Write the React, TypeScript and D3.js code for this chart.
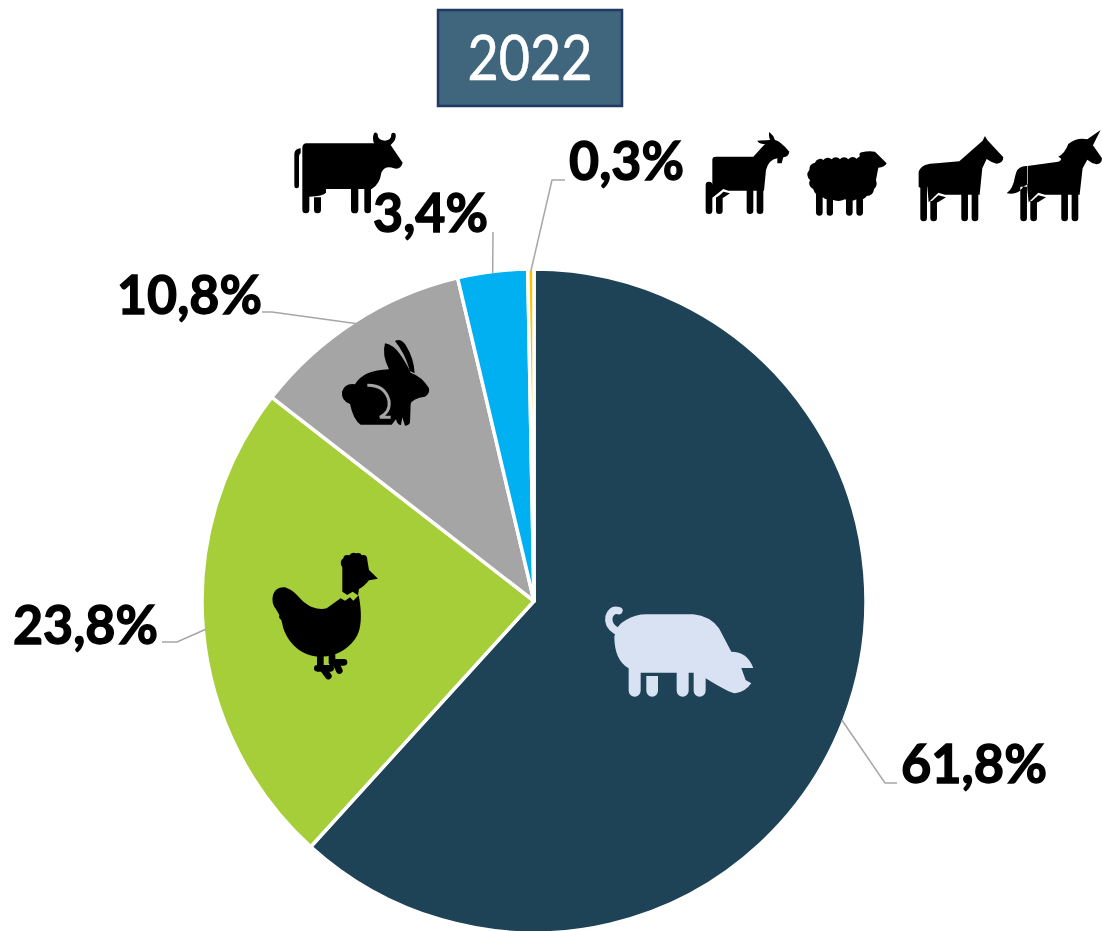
import React from "react";
import * as d3 from "d3";

const titleText = "2022";
const categories = ["Porc", "Volaille", "Lapin", "Bovin", "Autres"];
const shareValues = [61.8, 23.8, 10.8, 3.4, 0.3];
const shareLabels = ["61,8%", "23,8%", "10,8%", "3,4%", "0,3%"];
const sliceColors = ["#1e4256", "#a6ce39", "#a5a5a5", "#00b0f0", "#ffc000"];

const W = 1102, H = 931;
const cx = 534, cy = 601, R = 332;
const FONT = "Lato, 'Open Sans', sans-serif";
const LEADER = "#a6a6a6";

// label placement: text left / baseline / width, leader elbow and end
const labelLayout = [
  { x: 901, y: 783, w: 146, leader: [[885, 783], [897, 783]] },
  { x: 13, y: 644, w: 145, leader: [[177, 642], [162, 642]] },
  { x: 117, y: 314, w: 145, leader: [[272, 312], [262, 312]] },
  { x: 373, y: 232, w: 115, leader: [[493, 232]] },
  { x: 569, y: 180, w: 115, leader: [[552, 180], [565, 180]] },
];

const leg = (x: number, y0: number, y1: number, w: number) =>
  `M${x} ${y0}h${w}V${y1 - w / 2}a${w / 2} ${w / 2} 0 0 1 ${-w} 0Z`;

const cowPath =
  "M110 430H312Q306 415 312 400Q318 394 323 402Q322 420 345 422Q365 420 364 402Q370 394 377 402Q380 420 362 435L398 488Q392 510 372 505Q345 495 334 518Q330 552 305 567H168V578Q160 588 118 590H97V445Q97 430 110 430Z" +
  "M73 462Q73 447 92 445V460Q87 462 87 470V558a7 7 0 0 1 -14 0Z" +
  leg(97, 585, 640, 21) + leg(132, 592, 640, 21) + leg(243, 560, 640, 22) + leg(283, 560, 640, 20);

const goatPath =
  "M78 110H190L225 72Q205 72 202 62L240 60Q235 45 238 36Q250 45 255 60Q270 62 298 95Q296 110 280 112L275 130H262V115Q235 120 228 150L222 212H115L100 207L67 233V120Q67 110 78 110Z" +
  "M120 220L100 233H78L90 225L100 215Z" +
  leg(47, 195, 282, 20) + leg(78, 232, 282, 20) + leg(170, 205, 282, 20) + leg(200, 205, 282, 20) +
  "M47 195a10 10 0 0 1 20 0Z";

const sheepPath =
  "M375 128a16 16 0 0 1 25 -8a16 16 0 0 1 25 -2a16 16 0 0 1 25 0a16 16 0 0 1 25 0a16 16 0 0 1 25 -2L510 108Q505 100 515 97Q535 92 555 95L590 130Q585 142 565 143L558 180Q564 198 552 208Q550 228 530 228Q520 243 500 238Q480 248 465 238Q445 248 425 238Q405 241 395 228Q375 228 370 208Q352 198 360 180Q345 165 358 150Q356 133 375 128Z" +
  leg(378, 220, 287, 20) + leg(410, 232, 287, 19) + leg(468, 232, 287, 20) + leg(499, 225, 287, 20);

const horsePath =
  "M686 155Q695 130 740 130L808 124L878 62L885 48L892 60L940 112Q940 130 920 131Q905 128 890 117L877 145L869 224H765L745 218L716 247L712 200L695 207L686 200Z" +
  "M768 232L744 247H722L735 235L745 226Z" +
  leg(691, 200, 304, 20) + leg(721, 243, 304, 20) + leg(814, 215, 304, 20) + leg(845, 215, 304, 20);

const unicornPath =
  "M1012 138L1105 125Q1122 118 1105 110Q1125 100 1135 72Q1160 52 1192 58L1232 30L1209 76L1236 115Q1236 132 1220 133Q1205 130 1192 119L1178 145L1169 224H1065L1045 218L1016 247L1012 205Z" +
  "M1014 138Q980 135 975 170Q970 205 950 220Q975 225 990 212Q1000 198 1014 192Z" +
  "M1068 232L1044 247H1022L1035 235L1045 226Z" +
  leg(991, 200, 304, 20) + leg(1021, 243, 304, 20) + leg(1114, 215, 304, 20) + leg(1145, 215, 304, 20);

const pigPath =
  "M73 140Q78 105 108 90Q135 73 170 73H310Q360 78 387 115L424 185Q472 185 490 234H454L467 270L484 280Q465 307 435 310Q420 310 347 265V302a18 18 0 0 1 -36 0V248H296V302a18 18 0 0 1 -36 0V248H152V302a18 18 0 0 1 -36 0V235Q73 210 73 140Z" +
  leg(169, 258, 320, 35);
const pigTail = "M87 62Q66 55 57 80Q52 105 78 122";

const chickenPath =
  "M38 170C42 148 58 140 75 142C100 150 112 168 125 180C150 205 180 210 200 205L242 175L255 182L270 172L280 182L296 166C304 205 304 240 300 260C292 310 240 350 180 350C125 350 85 310 70 265L64 240Q55 235 58 225L48 208C38 195 36 182 38 170Z" +
  "M247 155V82Q236 65 250 55Q252 42 268 46Q275 34 288 40Q302 36 305 46Q322 42 322 60L327 90L354 116L327 121Q312 140 297 147L294 166L278 155L262 165Z";
const chickenFeet = "M181 345V385M172 385H212M190 388L205 408M216 345V367H252M228 370L238 392";

const rabbitPath =
  "M165 40Q192 45 212 75Q235 110 242 128Q277 140 297 175Q300 192 285 200Q247 205 242 222L240 278Q235 287 225 287L217 262L213 285Q203 287 198 268L185 284H92Q70 270 60 222Q33 212 36 185Q45 158 75 163Q100 120 177 118Q155 75 165 40Z" +
  "M195 33Q212 24 227 45Q252 85 254 130L240 123Q225 70 195 33Z";
const rabbitArc = "M112 166Q165 165 177 212Q182 245 150 262H182";

export default function App() {
  const pie = d3.pie<number>().sort(null).startAngle(0).endAngle(2 * Math.PI);
  const arcs = pie(shareValues);
  const arc = d3.arc<d3.PieArcDatum<number>>().innerRadius(0).outerRadius(R);
  const line = d3.line();

  return (
    <svg width={W} height={H} viewBox={`0 0 ${W} ${H}`}
      style={{ position: "absolute", left: 0, top: 0, display: "block", background: "#fff" }}>
      <rect x={438} y={10} width={184} height={96} fill="#3f667c" stroke="#1f3864" strokeWidth={2.5} />
      <text x={530} y={80} textAnchor="middle" fontFamily={FONT} fontSize={61} fill="#fff" stroke="#fff" strokeWidth={0.6}
        textLength={125} lengthAdjust="spacingAndGlyphs">{titleText}</text>

      <g transform={`translate(${cx},${cy})`}>
        {arcs.map((a, i) => (
          <path key={categories[i]} d={arc(a) ?? ""} fill={sliceColors[i]} stroke="#fff" strokeWidth={3.5} strokeLinejoin="round" />
        ))}
      </g>

      {arcs.map((a, i) => {
        const mid = (a.startAngle + a.endAngle) / 2;
        const start: [number, number] = [cx + (R - 2) * Math.sin(mid), cy - (R - 2) * Math.cos(mid)];
        const pts = [start, ...labelLayout[i].leader] as [number, number][];
        return <path key={i} d={line(pts) ?? ""} fill="none" stroke={LEADER} strokeWidth={1.5} />;
      })}

      <g transform="translate(270,0) scale(0.3333)"><path d={cowPath} fill="#000" /></g>
      <g transform="translate(690,120) scale(0.3333)">
        <path d={goatPath} fill="#000" />
        <path d={sheepPath} fill="#000" />
        <path d={horsePath} fill="#000" />
        <path d={unicornPath} fill="#000" />
      </g>
      <g transform="translate(590,590) scale(0.3333)">
        <path d={pigPath} fill="#d9e2f3" />
        <path d={pigTail} fill="none" stroke="#d9e2f3" strokeWidth={22} strokeLinecap="round" />
      </g>
      <g transform="translate(260,540) scale(0.3333)">
        <path d={chickenPath} fill="#000" />
        <path d={chickenFeet} fill="none" stroke="#000" strokeWidth={20} strokeLinecap="round" strokeLinejoin="round" />
      </g>
      <g transform="translate(330,330) scale(0.3333)">
        <path d={rabbitPath} fill="#000" />
        <path d={rabbitArc} fill="none" stroke="#a5a5a5" strokeWidth={9} />
      </g>

      {shareLabels.map((t, i) => (
        <text key={t} x={labelLayout[i].x} y={labelLayout[i].y} fontFamily={FONT} fontWeight={700} fontSize={54}
          fill="#000" stroke="#000" strokeWidth={1.4} textLength={labelLayout[i].w} lengthAdjust="spacingAndGlyphs">{t}</text>
      ))}
    </svg>
  );
}
